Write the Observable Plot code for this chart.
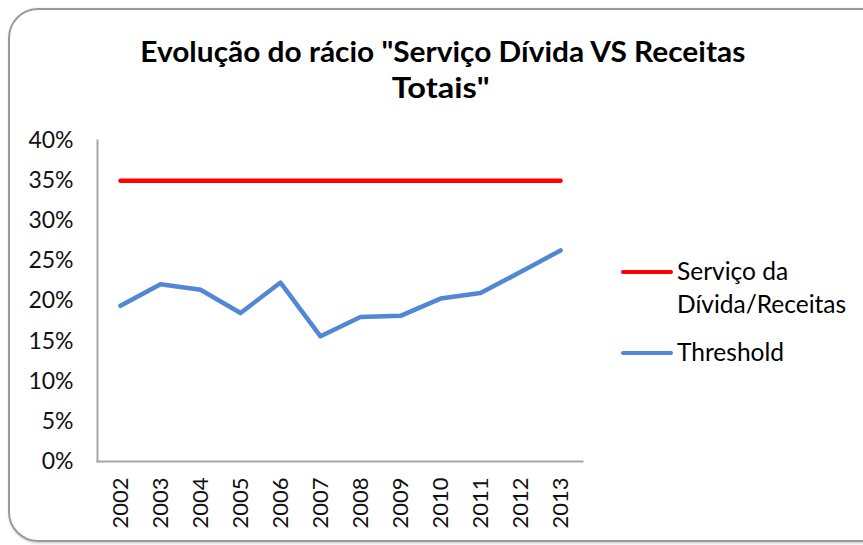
<!DOCTYPE html>
<html>
<head>
<meta charset="utf-8">
<script src="https://cdn.jsdelivr.net/npm/d3@7"></script>
<script src="https://cdn.jsdelivr.net/npm/@observablehq/plot@0.6"></script>
<style>
  html, body { margin: 0; padding: 0; background: #fff; overflow: hidden; }
  #wrap { position: relative; width: 863px; height: 545px; overflow: hidden; font-family: Lato, "Noto Sans", sans-serif; color: #000; }
  #border { position: absolute; left: 8px; top: 8px; width: 900px; height: 530px; border: 2px solid #9a9a9a; border-radius: 30px; box-shadow: 1px 1px 3px rgba(0,0,0,0.25); }
  #chart { position: absolute; left: 0; top: 0; }
  .tline { position: absolute; width: 863px; text-align: center; font-weight: bold; font-size: 29px; line-height: 36px; white-space: nowrap; }
  .tline span { display: inline-block; transform-origin: center; }
  .leg { position: absolute; font-size: 24.5px; line-height: 33px; white-space: nowrap; }
  .sw { position: absolute; height: 4px; border-radius: 2px; }
</style>
</head>
<body>
<div id="wrap">
  <div id="border"></div>
  <div id="chart"></div>
  <div class="tline" style="top:33px; left:11px"><span data-w="605">Evolução do rácio "Serviço Dívida VS Receitas</span></div>
  <div class="tline" style="top:69px; left:9px"><span data-w="98">Totais"</span></div>
  <div class="sw" style="left:621px; top:270px; width:52px; background:#ff0000"></div>
  <div class="leg" style="left:677px; top:254px">Serviço da<br>Dívida/Receitas</div>
  <div class="sw" style="left:621px; top:351px; width:52px; background:#5287d3"></div>
  <div class="leg" style="left:677px; top:335px">Threshold</div>
</div>
<script>
const years = ["2002","2003","2004","2005","2006","2007","2008","2009","2010","2011","2012","2013"];
const servicoDivida = [35,35,35,35,35,35,35,35,35,35,35,35];
const threshold = [19.4,22.1,21.4,18.5,22.3,15.6,18.0,18.15,20.3,21.0,23.6,26.3];
const yTicks = [0,5,10,15,20,25,30,35,40];

const red = years.map((y,i) => ({year: y, v: servicoDivida[i]}));
const blue = years.map((y,i) => ({year: y, v: threshold[i]}));

const plot = Plot.plot({
  width: 863,
  height: 545,
  marginLeft: 97,
  marginRight: 281,
  marginTop: 140,
  marginBottom: 84,
  style: { fontFamily: "Lato, 'Noto Sans', sans-serif", fontSize: "23px", color: "#000", background: "transparent", overflow: "visible" },
  x: { type: "point", domain: years, padding: 0.5, label: null },
  y: { domain: [0, 40], label: null },
  marks: [
    Plot.frame({ anchor: "left", stroke: "#a6a6a6", strokeWidth: 2 }),
    Plot.frame({ anchor: "bottom", stroke: "#a6a6a6", strokeWidth: 2 }),
    Plot.axisY({ ticks: yTicks, tickFormat: d => d + "%", tickSize: 0, tickPadding: 24, fontSize: 23, fill: "#111", label: null }),
    Plot.axisX({ tickRotate: -90, tickSize: 0, tickPadding: 16, fontSize: 22, fill: "#111", label: null }),
    Plot.line(blue, { x: "year", y: "v", stroke: "#5287d3", strokeWidth: 4.5, strokeLinecap: "round", strokeLinejoin: "round" }),
    Plot.line(red, { x: "year", y: "v", stroke: "#ff0000", strokeWidth: 4.5, strokeLinecap: "round" })
  ]
});
document.getElementById("chart").appendChild(plot);

document.querySelectorAll(".tline span").forEach(s => {
  const target = +s.dataset.w;
  const w = s.getBoundingClientRect().width;
  if (w > 0) s.style.transform = `scaleX(${target / w})`;
});
</script>
</body>
</html>
